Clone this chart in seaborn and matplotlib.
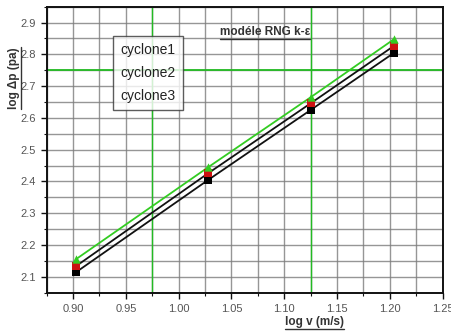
import matplotlib
matplotlib.use("Agg")
import matplotlib.pyplot as plt
import seaborn as sns
import pandas as pd
from matplotlib.ticker import MultipleLocator, FormatStrFormatter
from matplotlib.lines import Line2D

log_v = [0.903, 1.028, 1.125, 1.204]
cyclone1 = [2.115, 2.405, 2.625, 2.805]
cyclone2 = [2.134, 2.426, 2.646, 2.827]
cyclone3 = [2.156, 2.445, 2.665, 2.848]
series_names = ["cyclone1", "cyclone2", "cyclone3"]

rows = []
for name, vals in zip(series_names, [cyclone1, cyclone2, cyclone3]):
    for x, y in zip(log_v, vals):
        rows.append({"x": x, "y": y, "serie": name})
df = pd.DataFrame(rows)

sns.set_theme(style="white")
plt.rcParams['font.family'] = ['Liberation Sans', 'DejaVu Sans']

fig = plt.figure(figsize=(4.51, 3.31), dpi=100)
ax = fig.add_axes([0.1035, 0.1157, 0.8781, 0.8641])

ax.set_xlim(0.875, 1.25)
ax.set_ylim(2.05, 2.95)
ax.xaxis.set_major_locator(MultipleLocator(0.05))
ax.xaxis.set_minor_locator(MultipleLocator(0.025))
ax.yaxis.set_major_locator(MultipleLocator(0.1))
ax.yaxis.set_minor_locator(MultipleLocator(0.05))
ax.xaxis.set_major_formatter(FormatStrFormatter('%.2f'))
ax.yaxis.set_major_formatter(FormatStrFormatter('%.1f'))

# grid
ax.grid(which='both', color='#7c7c7c', linewidth=1.0, linestyle='-', alpha=0.8)
ax.axvline(0.975, color='#22bb22', lw=1.0, zorder=1)
ax.axvline(1.125, color='#22bb22', lw=1.0, zorder=1)
ax.axhline(2.75, color='#22bb22', lw=1.3, zorder=1)

line_colors = {"cyclone1": "#111111", "cyclone2": "#111111", "cyclone3": "#33cc22"}
marker_colors = {"cyclone1": "#000000", "cyclone2": "#cc1111", "cyclone3": "#33cc22"}
markers = {"cyclone1": "s", "cyclone2": "s", "cyclone3": "^"}

for name in series_names:
    sub = df[df["serie"] == name]
    sns.lineplot(data=sub, x="x", y="y", ax=ax, color=line_colors[name], lw=1.3,
                 legend=False, zorder=3)
for name in series_names:
    sub = df[df["serie"] == name]
    sns.scatterplot(data=sub, x="x", y="y", ax=ax, color=marker_colors[name],
                    marker=markers[name], s=36, edgecolor=marker_colors[name],
                    linewidth=0, legend=False, zorder=4)

ax.set_xlabel("")
ax.set_ylabel("")

for sp in ax.spines.values():
    sp.set_color('#111111')
    sp.set_linewidth(1.4)

ax.tick_params(which='major', direction='out', length=4, width=1.0, color='#111111',
               labelsize=8, labelcolor='#555555', bottom=True, left=True, pad=4)
ax.tick_params(which='minor', direction='out', length=2.5, width=0.8, color='#111111',
               bottom=True, left=True)

# legend with text only
handles = [Line2D([], [], linestyle='none', marker=None) for _ in series_names]
leg = ax.legend(handles, series_names, loc='upper left', bbox_to_anchor=(0.167, 0.898),
                borderaxespad=0, handlelength=0, handletextpad=0, frameon=True,
                fancybox=False, edgecolor='#333333', fontsize=10, labelspacing=0.62,
                borderpad=0.55)
leg.get_frame().set_linewidth(1.0)
for t in leg.get_texts():
    t.set_color('#222222')

t_title = ax.text(0.438, 0.911, "modéle RNG k-ε", transform=ax.transAxes,
                  fontsize=8.5, fontweight='bold', color='#333333', va='center', ha='left')
t_x = fig.text(0.697, 0.027, "log v (m/s)", fontsize=8.5, fontweight='bold',
               color='#333333', ha='center', va='center')
t_y = fig.text(0.03, 0.765, "log Δp (pa)", fontsize=8.5, fontweight='bold',
               color='#333333', ha='center', va='center', rotation=90)

fig.canvas.draw()
r = fig.canvas.get_renderer()
inv = fig.transFigure.inverted()
for t, vertical in [(t_title, False), (t_x, False), (t_y, True)]:
    bb = t.get_window_extent(r)
    (x0, y0), (x1, y1) = inv.transform([(bb.x0, bb.y0), (bb.x1, bb.y1)])
    if vertical:
        fig.add_artist(Line2D([x1 + 0.004, x1 + 0.004], [y0, y1], transform=fig.transFigure,
                              color='#333333', lw=1.0))
    else:
        fig.add_artist(Line2D([x0, x1], [y0 - 0.003, y0 - 0.003], transform=fig.transFigure,
                              color='#333333', lw=1.0))

fig.savefig("out.png", dpi=100)
